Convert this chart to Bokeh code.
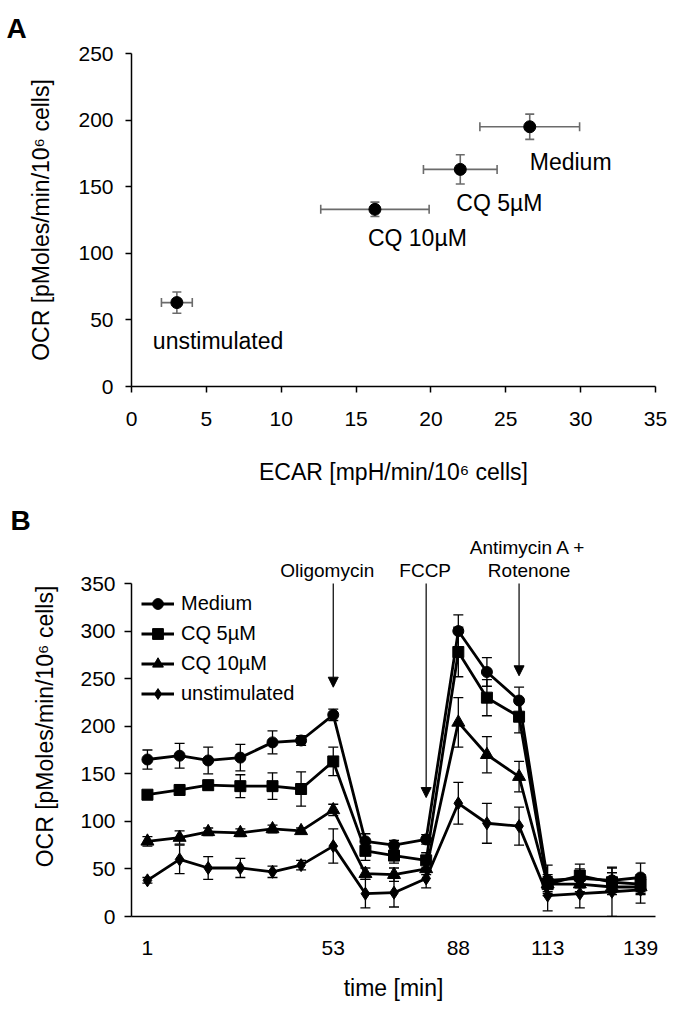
from bokeh.plotting import figure
from bokeh.layouts import column
from bokeh.models import (Range1d, ColumnDataSource, Whisker, TeeHead, Arrow,
                          NormalHead, Legend, LegendItem, FixedTicker)
from bokeh.core.properties import value
from bokeh.embed import file_html
from bokeh.resources import INLINE

FONT = "Liberation Sans"

# ---------------- Panel A data ----------------
groups_a = ["unstimulated", "CQ 10µM", "CQ 5µM", "Medium"]
ecar = [3.03, 16.26, 21.96, 26.6]
ecar_err = [1.03, 3.62, 2.46, 3.33]
ocr_a = [63, 133, 163, 195]
ocr_a_err = [8, 5.4, 11, 9.5]
x_ticks_a = [0, 5, 10, 15, 20, 25, 30, 35]
y_ticks_a = [0, 50, 100, 150, 200, 250]

# ---------------- Panel B data ----------------
series_names = ["Medium", "CQ 5µM", "CQ 10µM", "unstimulated"]
times = [1, 10, 18, 27, 36, 44, 53, 62, 70, 79, 88, 96, 105, 113, 122, 131, 139]
medium = [165, 169, 164, 167, 183, 185, 212, 79, 75, 81, 300, 257, 227, 38, 40, 38, 41]
medium_err = [10, 13, 14, 14, 12, 5, 6, 8, 5, 5, 17, 15, 14, 16, 10, 13, 15]
cq5 = [128, 133, 138, 137, 137, 134, 163, 69, 64, 59, 278, 230, 210, 34, 43, 36, 34]
cq5_err = [4, 5, 5, 12, 14, 18, 15, 10, 8, 8, 26, 19, 17, 10, 12, 10, 10]
cq10 = [79, 83, 89, 88, 92, 90, 112, 45, 44, 50, 204, 170, 147, 34, 34, 31, 31]
cq10_err = [5, 7, 4, 4, 4, 3, 6, 6, 7, 6, 26, 19, 16, 8, 8, 8, 8]
unstim = [38, 60, 51, 51, 47, 54, 74, 24, 25, 40, 119, 98, 95, 22, 24, 26, 28]
unstim_err = [3, 15, 12, 10, 6, 5, 18, 15, 15, 10, 22, 21, 20, 16, 15, 26, 14]
x_ticks_b = [1, 53, 88, 113, 139]
y_ticks_b = [0, 50, 100, 150, 200, 250, 300, 350]

injection_time = [53, 79, 105]
arrow_tip = [241, 125, 253]
injection_text = ["Oligomycin", "FCCP", "Antimycin A +", "Rotenone"]
injection_text_time = [53, 79, 105, 105]


def style_axes(p):
    p.grid.visible = False
    p.outline_line_color = None
    p.background_fill_color = "white"
    p.border_fill_color = "white"
    for ax in p.axis:
        ax.axis_line_color = "black"
        ax.axis_line_width = 1.5
        ax.major_tick_line_color = "black"
        ax.major_tick_line_width = 1.5
        ax.minor_tick_line_color = None
        ax.major_tick_in = 0
        ax.major_label_text_font = FONT
        ax.major_label_text_font_size = "21px"
        ax.major_label_text_color = "black"
        ax.axis_label_text_font = FONT
        ax.axis_label_text_font_size = "23px"
        ax.axis_label_text_font_style = "normal"
        ax.axis_label_text_color = "black"


def panel_title(p, letter, offset, standoff):
    p.title.text = letter
    p.title.text_font = FONT
    p.title.text_font_size = "28px"
    p.title.text_font_style = "bold"
    p.title.text_color = "black"
    p.title.align = "left"
    p.title.offset = offset
    p.title.standoff = standoff


# ================= Panel A =================
pA = figure(width=667, height=500, x_range=Range1d(0, 35), y_range=Range1d(0, 250),
            output_backend="svg", toolbar_location=None,
            min_border_left=131, min_border_right=12, min_border_top=53, min_border_bottom=114)
style_axes(pA)
panel_title(pA, "A", -125, 20)
pA.xaxis.ticker = FixedTicker(ticks=x_ticks_a)
pA.yaxis.ticker = FixedTicker(ticks=y_ticks_a)
pA.xaxis.major_tick_out = 6
pA.yaxis.major_tick_out = 6
pA.xaxis.major_label_standoff = 19
pA.yaxis.major_label_standoff = 12
pA.xaxis.axis_label_standoff = 30
pA.yaxis.axis_label_standoff = 21
pA.xaxis.axis_label = "ECAR [mpH/min/10\u2076 cells]"
pA.yaxis.axis_label = "OCR [pMoles/min/10\u2076 cells]"

srcA = ColumnDataSource(dict(
    x=ecar, y=ocr_a, name=groups_a,
    xl=[v - e for v, e in zip(ecar, ecar_err)], xu=[v + e for v, e in zip(ecar, ecar_err)],
    yl=[v - e for v, e in zip(ocr_a, ocr_a_err)], yu=[v + e for v, e in zip(ocr_a, ocr_a_err)],
    dx=[-24, -7, -4, 0], dy=[38, 29, 34, 35],
))
err_col = "#6b6b6b"
pA.add_layout(Whisker(base="y", lower="xl", upper="xu", dimension="width", source=srcA,
                      line_color=err_col, line_width=1.6,
                      lower_head=TeeHead(size=9, line_color=err_col, line_width=1.6),
                      upper_head=TeeHead(size=9, line_color=err_col, line_width=1.6)))
pA.add_layout(Whisker(base="x", lower="yl", upper="yu", dimension="height", source=srcA,
                      line_color=err_col, line_width=1.6,
                      lower_head=TeeHead(size=9, line_color=err_col, line_width=1.6),
                      upper_head=TeeHead(size=9, line_color=err_col, line_width=1.6)))
pA.scatter("x", "y", source=srcA, marker="circle", size=12, fill_color="black", line_color="black")
pA.text("x", "y", text="name", source=srcA, x_offset="dx", y_offset="dy",
        text_font=value(FONT), text_font_size="23px", text_align="left",
        text_baseline="middle", text_color="black")

# ================= Panel B =================
pB = figure(width=667, height=508, x_range=Range1d(-3.46, 143.18), y_range=Range1d(0, 399.4),
            output_backend="svg", toolbar_location=None,
            min_border_left=129, min_border_right=12, min_border_top=36, min_border_bottom=92)
style_axes(pB)
panel_title(pB, "B", -121, 2)
pB.xaxis.ticker = FixedTicker(ticks=x_ticks_b)
pB.yaxis.ticker = FixedTicker(ticks=y_ticks_b)
pB.yaxis.bounds = (0, 350)
pB.xaxis.major_tick_out = 0
pB.xaxis.major_tick_line_color = None
pB.yaxis.major_tick_out = 7
pB.xaxis.major_label_standoff = 24
pB.yaxis.major_label_standoff = 9
pB.xaxis.axis_label_standoff = 17
pB.yaxis.axis_label_standoff = 19
pB.xaxis.axis_label = "time [min]"
pB.yaxis.axis_label = "OCR [pMoles/min/10\u2076 cells]"

series_vals = [medium, cq5, cq10, unstim]
series_errs = [medium_err, cq5_err, cq10_err, unstim_err]
markers = ["circle", "square", "triangle", "diamond"]
msizes = [11, 11, 13, 13]

items = []
for name, vals, errs, mk, ms in zip(series_names, series_vals, series_errs, markers, msizes):
    src = ColumnDataSource(dict(x=times, y=vals,
                                lo=[v - e for v, e in zip(vals, errs)],
                                hi=[v + e for v, e in zip(vals, errs)]))
    pB.add_layout(Whisker(base="x", lower="lo", upper="hi", dimension="height", source=src,
                          line_color="black", line_width=1.3,
                          lower_head=TeeHead(size=10, line_color="black", line_width=1.3),
                          upper_head=TeeHead(size=10, line_color="black", line_width=1.3)))
    lr = pB.line("x", "y", source=src, line_color="black", line_width=2.8)
    sr = pB.scatter("x", "y", source=src, marker=mk, size=ms, fill_color="black", line_color="black")
    items.append(LegendItem(label=name, renderers=[lr, sr]))

legend = Legend(items=items, location=(10, 209), margin=0, padding=5, spacing=3,
                glyph_width=33, glyph_height=27, label_height=27, label_standoff=7,
                label_text_font=FONT, label_text_font_size="20px", label_text_color="black",
                background_fill_alpha=0, border_line_color=None)
pB.add_layout(legend)

arr_src = ColumnDataSource(dict(x=injection_time, y0=[350] * 3, y1=arrow_tip))
pB.add_layout(Arrow(x_start="x", y_start="y0", x_end="x", y_end="y1", source=arr_src,
                    line_color="black", line_width=1.2,
                    end=NormalHead(size=10, fill_color="black", line_color="black")))
txt_src = ColumnDataSource(dict(x=injection_text_time, text=injection_text,
                                dx=[-6, -1, 9, 10], dy=[0, 0, -23, 0]))
pB.text("x", 363.7, text="text", source=txt_src, x_offset="dx", y_offset="dy",
        text_font=value(FONT), text_font_size="19px", text_align="center",
        text_baseline="middle", text_color="black")

layout = column(pA, pB, spacing=0)
open("out.html", "w").write(file_html(layout, INLINE))
